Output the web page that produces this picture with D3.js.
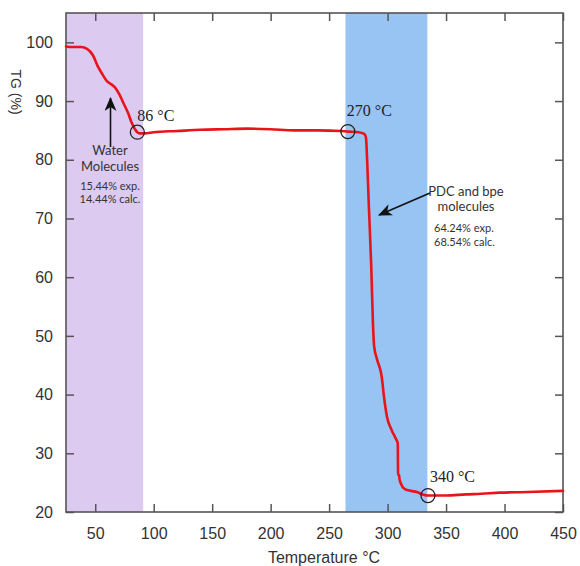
<!DOCTYPE html>
<html>
<head>
<meta charset="utf-8">
<script src="https://cdn.jsdelivr.net/npm/d3@7"></script>
<style>
  html, body { margin: 0; padding: 0; background: #fff; }
  svg { display: block; }
</style>
</head>
<body>
<svg id="chart" width="580" height="566"></svg>
<script>
// ---- data ----
const temperature = [25, 30, 38, 43, 48, 52, 56, 60, 64, 67, 71, 74, 78, 81, 84, 86, 88, 92, 100, 120, 140, 160, 180, 200, 220, 240, 260, 266, 275, 280, 281.5, 282.5, 284, 286, 287.5, 288.5, 291, 295, 297, 299.5, 303.6, 307, 308.7, 309, 309.8, 310.2, 311.5, 313, 315, 320, 325, 330, 334, 340, 350, 367, 380, 396, 420, 450];
const tgPercent   = [99.3, 99.2, 99.2, 98.9, 97.8, 96.0, 94.6, 93.4, 92.8, 92.3, 91.0, 89.7, 88.0, 86.4, 85.2, 84.7, 84.5, 84.5, 84.7, 84.9, 85.1, 85.2, 85.3, 85.2, 85.0, 85.0, 84.9, 84.8, 84.7, 84.4, 83.8, 80.0, 72.0, 62.0, 52.0, 48.2, 46.0, 43.0, 39.5, 36.2, 33.9, 32.5, 31.7, 26.3, 26.3, 25.6, 24.8, 24.2, 23.9, 23.6, 23.4, 23.0, 22.8, 22.8, 22.8, 23.0, 23.1, 23.3, 23.4, 23.6];

const xTicks = [50, 100, 150, 200, 250, 300, 350, 400, 450];
const yTicks = [20, 30, 40, 50, 60, 70, 80, 90, 100];

const bandStart = [25, 264];
const bandEnd   = [91, 334];
const bandColor = ["#dccaf1", "#97c4f2"];

const markerTemp  = [86, 266, 334.5];
const markerValue = [84.7, 84.8, 22.8];
const markerLabel = ["86 °C", "270 °C", "340 °C"];

// ---- layout ----
const svg = d3.select("#chart");
const x = d3.scaleLinear().domain([25, 450]).range([66, 563]);
const y = d3.scaleLinear().domain([20, 105]).range([512, 13]);
const frameColor = "#555";

// bands
svg.append("g").selectAll("rect")
  .data(bandStart)
  .join("rect")
  .attr("x", (d) => x(d))
  .attr("y", y(105))
  .attr("width", (d, i) => x(bandEnd[i]) - x(d))
  .attr("height", y(20) - y(105))
  .attr("fill", (d, i) => bandColor[i]);

// axes
const fontAxis = "'Liberation Sans', Arial, sans-serif";
const gB = svg.append("g").attr("transform", `translate(0,${y(20)})`)
  .call(d3.axisBottom(x).tickValues(xTicks).tickSizeInner(-8).tickSizeOuter(0).tickPadding(16));
const gL = svg.append("g").attr("transform", `translate(${x(25)},0)`)
  .call(d3.axisLeft(y).tickValues(yTicks).tickSizeInner(-8).tickSizeOuter(0).tickPadding(13));
const gT = svg.append("g").attr("transform", `translate(0,${y(105)})`)
  .call(d3.axisTop(x).tickValues(xTicks).tickSizeInner(-8).tickSizeOuter(0).tickFormat(""));
const gR = svg.append("g").attr("transform", `translate(${x(450)},0)`)
  .call(d3.axisRight(y).tickValues(yTicks).tickSizeInner(-8).tickSizeOuter(0).tickFormat(""));
[gB, gL, gT, gR].forEach(g => {
  g.select(".domain").remove();
  g.selectAll(".tick line").attr("stroke", frameColor).attr("stroke-width", 1.5);
  g.selectAll(".tick text").attr("fill", "#333").style("font-family", fontAxis).style("font-size", "16px");
});

// frame
svg.append("rect")
  .attr("x", x(25)).attr("y", y(105))
  .attr("width", x(450) - x(25)).attr("height", y(20) - y(105))
  .attr("fill", "none").attr("stroke", frameColor).attr("stroke-width", 1.6);

// curve
svg.append("path")
  .datum(tgPercent)
  .attr("d", d3.line().x((d, i) => x(temperature[i])).y((d) => y(d)).curve(d3.curveMonotoneX))
  .attr("fill", "none").attr("stroke", "#e8141a").attr("stroke-width", 2.6)
  .attr("stroke-linejoin", "round").attr("stroke-linecap", "round");

// markers
svg.append("g").selectAll("circle")
  .data(markerTemp)
  .join("circle")
  .attr("cx", (d) => x(d))
  .attr("cy", (d, i) => y(markerValue[i]))
  .attr("r", 7)
  .attr("fill", "none").attr("stroke", "#222").attr("stroke-width", 1.3);

const labelOffset = [[0, -11], [-1, -16], [2, -14]];
svg.append("g").selectAll("text")
  .data(markerLabel)
  .join("text")
  .attr("x", (d, i) => x(markerTemp[i]) + labelOffset[i][0])
  .attr("y", (d, i) => y(markerValue[i]) + labelOffset[i][1])
  .style("font-family", "'Liberation Serif', 'Times New Roman', serif")
  .style("font-size", "16px")
  .attr("fill", "#222")
  .text((d) => d);

// arrows
const defs = svg.append("defs");
defs.append("marker")
  .attr("id", "ah").attr("viewBox", "0 0 14 12").attr("refX", 13).attr("refY", 6)
  .attr("markerWidth", 14).attr("markerHeight", 12).attr("markerUnits", "userSpaceOnUse")
  .attr("orient", "auto")
  .append("path").attr("d", "M0,0 L14,6 L0,12 L4,6 Z").attr("fill", "#111");

svg.append("line")
  .attr("x1", 110.5).attr("y1", 147).attr("x2", 110.5).attr("y2", 98)
  .attr("stroke", "#111").attr("stroke-width", 1.6).attr("marker-end", "url(#ah)");
svg.append("line")
  .attr("x1", 430).attr("y1", 193).attr("x2", 379).attr("y2", 215)
  .attr("stroke", "#111").attr("stroke-width", 1.6).attr("marker-end", "url(#ah)");

// annotation texts
const annoFont = "Lato, 'Open Sans', sans-serif";
const waterLines = [["Water", 155, 13], ["Molecules", 171, 13], ["15.44% exp.", 190, 11], ["14.44% calc.", 203, 11]];
svg.append("g").selectAll("text")
  .data(waterLines)
  .join("text")
  .attr("x", 110).attr("y", (d) => d[1])
  .attr("text-anchor", "middle")
  .style("font-family", annoFont).style("font-size", (d) => d[2] + "px")
  .attr("fill", "#333")
  .text((d) => d[0]);

const pdcLines = [["PDC and bpe", 466, 196, 13, "middle"], ["molecules", 466, 211, 13, "middle"], ["64.24% exp.", 434, 232, 11, "start"], ["68.54% calc.", 434, 246, 11, "start"]];
svg.append("g").selectAll("text")
  .data(pdcLines)
  .join("text")
  .attr("x", (d) => d[1]).attr("y", (d) => d[2])
  .attr("text-anchor", (d) => d[4])
  .style("font-family", annoFont).style("font-size", (d) => d[3] + "px")
  .attr("fill", "#333")
  .text((d) => d[0]);

// axis titles
svg.append("text")
  .attr("x", 324).attr("y", 563)
  .attr("text-anchor", "middle")
  .style("font-family", fontAxis).style("font-size", "16px")
  .attr("fill", "#333")
  .text("Temperature °C");

svg.append("text")
  .attr("transform", "translate(11,92) rotate(90)")
  .attr("text-anchor", "middle")
  .style("font-family", fontAxis).style("font-size", "14px")
  .attr("fill", "#333")
  .text("TG (%)");
</script>
</body>
</html>
